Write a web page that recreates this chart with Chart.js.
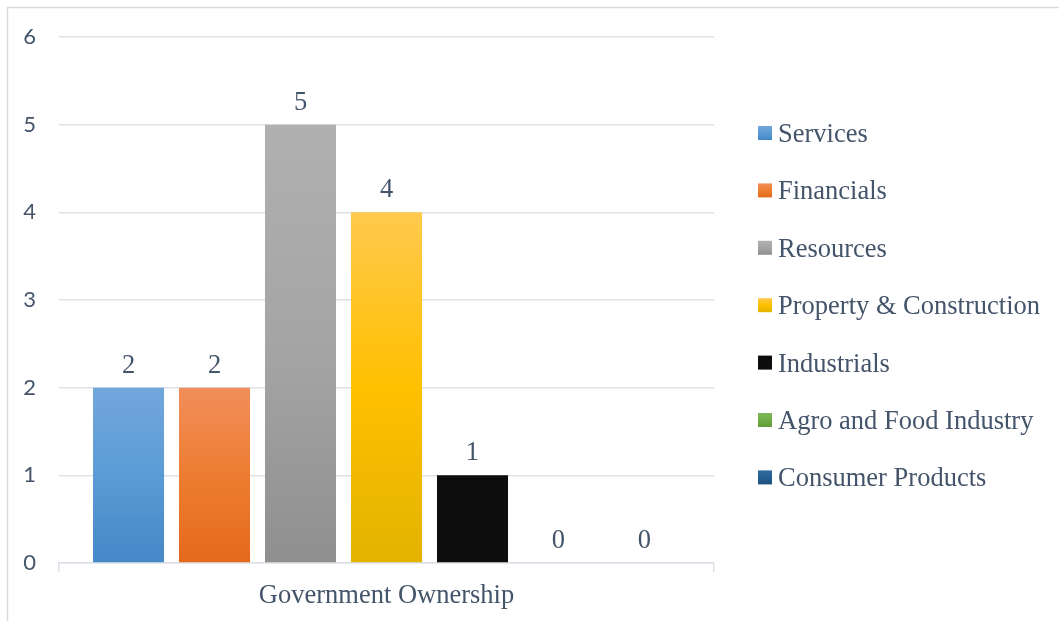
<!DOCTYPE html>
<html>
<head>
<meta charset="utf-8">
<style>
  html, body { margin: 0; padding: 0; background: #ffffff; }
  #wrap { width: 1059px; height: 621px; position: relative; }
</style>
<script src="https://cdn.jsdelivr.net/npm/chart.js@4/dist/chart.umd.min.js"></script>
</head>
<body>
<div id="wrap"><canvas id="chart" width="1059" height="621"></canvas></div>
<script>
// Ownership category on the x axis
const categories = ['Government Ownership'];

// Sector series and their counts
const sectorNames = ['Services', 'Financials', 'Resources', 'Property & Construction',
                     'Industrials', 'Agro and Food Industry', 'Consumer Products'];
const sectorCounts = [2, 2, 5, 4, 1, 0, 0];

// y axis tick values
const yTicks = [0, 1, 2, 3, 4, 5, 6];

// Fill colours per sector: [top, middle, bottom]
const sectorShades = [
  ['#72a7dc', '#5b9bd5', '#4488c8'],
  ['#f28e5b', '#ed7d31', '#e4691b'],
  ['#b0b0b0', '#a5a5a5', '#8f8f8f'],
  ['#ffc94d', '#ffc000', '#e2b300'],
  ['#0d0d0d', '#0d0d0d', '#0d0d0d'],
  ['#7cb856', '#70ad47', '#5f9a38'],
  ['#2f6aa0', '#255e91', '#1d4f7c']
];

const textColor = '#44546a';
const gridColor = '#dde1e7';
const serif = '"Liberation Serif", "Times New Roman", serif';
const serifSize = 26.5;

function shadeFill(ctx, shades, top, bottom) {
  const g = ctx.createLinearGradient(0, top, 0, bottom);
  g.addColorStop(0, shades[0]);
  g.addColorStop(0.5, shades[1]);
  g.addColorStop(1, shades[2]);
  return g;
}

const datasets = sectorNames.map((name, i) => ({
  label: name,
  data: [sectorCounts[i]],
  backgroundColor(context) {
    const chart = context.chart;
    if (!chart.chartArea || context.type !== 'data') return sectorShades[i][1];
    const ys = chart.scales.y;
    const top = ys.getPixelForValue(context.parsed.y);
    const bottom = ys.getPixelForValue(0);
    if (bottom - top < 1) return sectorShades[i][1];
    return shadeFill(chart.ctx, sectorShades[i], top, bottom);
  },
  borderWidth: 0
}));

// Outer frame around the whole chart
const framePlugin = {
  id: 'frame',
  beforeDraw(chart) {
    const c = chart.ctx;
    c.save();
    c.strokeStyle = '#d9d9d9';
    c.lineWidth = 1.5;
    c.strokeRect(7.5, 7.5, chart.width + 10, chart.height + 10);
    c.restore();
  }
};

// Value labels above every bar
const valueLabels = {
  id: 'valueLabels',
  afterDatasetsDraw(chart) {
    const c = chart.ctx;
    c.save();
    c.font = serifSize + 'px ' + serif;
    c.fillStyle = textColor;
    c.textAlign = 'center';
    c.textBaseline = 'alphabetic';
    chart.data.datasets.forEach((ds, i) => {
      const meta = chart.getDatasetMeta(i);
      meta.data.forEach((bar, j) => {
        c.fillText(String(ds.data[j]), bar.x, bar.y - 15);
      });
    });
    c.restore();
  }
};

// Legend listed down the right side
const sideLegend = {
  id: 'sideLegend',
  afterDraw(chart) {
    const c = chart.ctx;
    const x0 = 758, y0 = 133, step = 57.4, box = 14;
    c.save();
    c.font = serifSize + 'px ' + serif;
    c.textBaseline = 'middle';
    c.textAlign = 'left';
    chart.data.datasets.forEach((ds, i) => {
      const yc = y0 + i * step;
      c.fillStyle = shadeFill(c, sectorShades[i], yc - box / 2, yc + box / 2);
      c.fillRect(x0, yc - box / 2, box, box);
      c.fillStyle = textColor;
      c.fillText(ds.label, x0 + box + 6, yc + 2);
    });
    c.restore();
  }
};

new Chart(document.getElementById('chart'), {
  type: 'bar',
  data: { labels: categories, datasets },
  plugins: [framePlugin, valueLabels, sideLegend],
  options: {
    responsive: false,
    animation: false,
    devicePixelRatio: 1,
    layout: { padding: { top: 37, right: 345, bottom: 0, left: 0 } },
    categoryPercentage: 0.919,
    barPercentage: 0.826,
    plugins: {
      legend: { display: false },
      tooltip: { enabled: false }
    },
    scales: {
      x: {
        grid: {
          offset: true,
          drawOnChartArea: false,
          drawTicks: true,
          tickLength: 9,
          color: gridColor,
          lineWidth: 1.5
        },
        border: { display: true, color: gridColor, width: 1.5 },
        ticks: {
          color: textColor,
          font: { family: serif, size: serifSize },
          padding: 8
        },
        afterFit(scale) { scale.height = 58; }
      },
      y: {
        min: 0,
        max: 6,
        afterBuildTicks(scale) { scale.ticks = yTicks.map(v => ({ value: v })); },
        grid: { drawTicks: false, color: gridColor, lineWidth: 1.5 },
        border: { display: false },
        ticks: {
          color: textColor,
          font: { family: 'Lato, "Open Sans", sans-serif', size: 22 },
          padding: 23
        },
        afterFit(scale) { scale.width = 59; }
      }
    }
  }
});
</script>
</body>
</html>
